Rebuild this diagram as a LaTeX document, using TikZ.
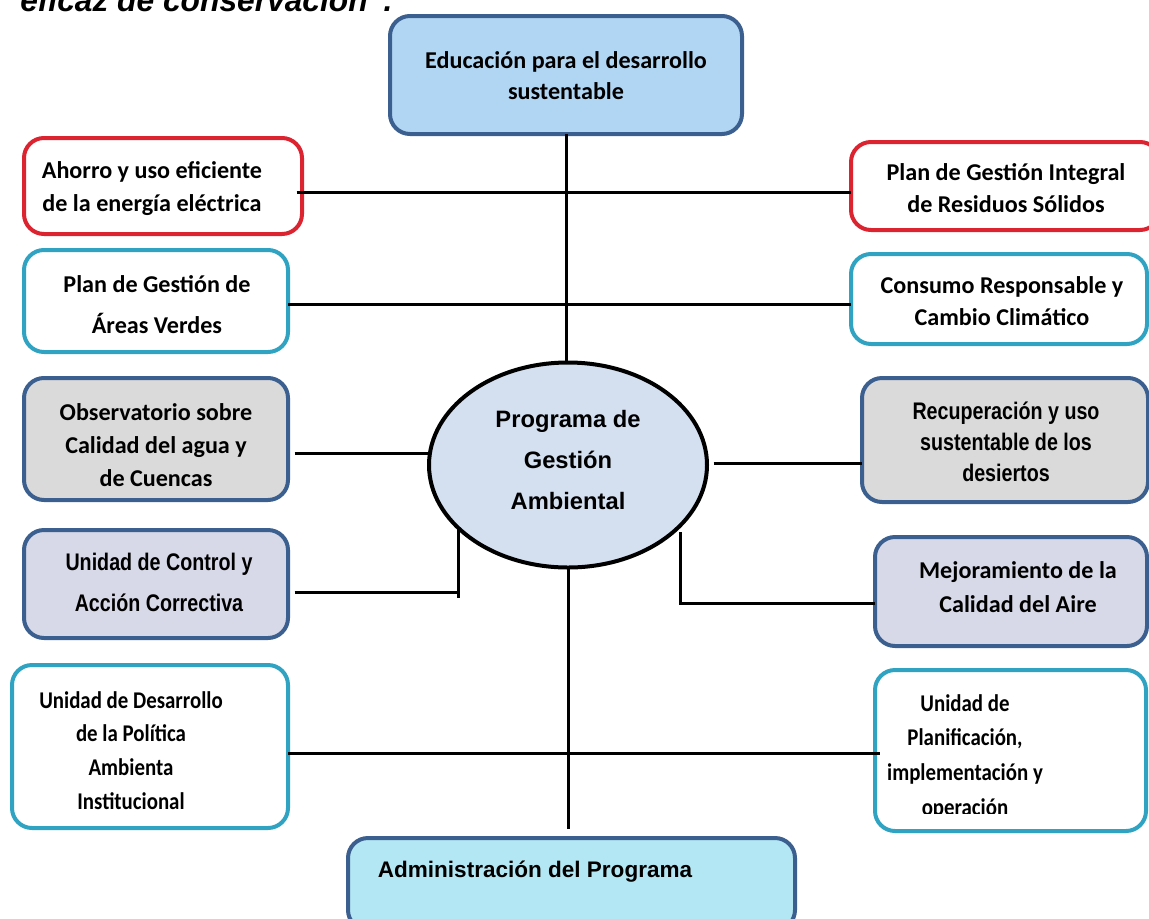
\documentclass[tikz,border=0pt]{standalone}
\usepackage{fontspec}
\usetikzlibrary{shapes.geometric}
\newfontfamily\carl{Carlito}
\newfontfamily\carlnarrow{Carlito}[FakeStretch=0.87]
\newfontfamily\arial{Liberation Sans}
\newfontfamily\narrowf{Liberation Sans}[FakeStretch=0.82]
\definecolor{dblue}{HTML}{3B5F8E}
\definecolor{redb}{HTML}{DC2430}
\definecolor{cyanb}{HTML}{31A3C2}
\definecolor{edufill}{HTML}{B1D6F4}
\definecolor{grayfill}{HTML}{DADADA}
\definecolor{lavfill}{HTML}{D7D9E8}
\definecolor{admfill}{HTML}{B3E7F3}
\definecolor{ellfill}{HTML}{D4E0F0}
\tikzset{
  boxbase/.style={rectangle, rounded corners=15pt, line width=3pt, inner sep=0pt, outer sep=0pt},
  bluebox/.style={boxbase, draw=dblue, fill=#1},
  redbox/.style={boxbase, draw=redb, fill=white},
  cyanbox/.style={boxbase, draw=cyanb, fill=white},
  conn/.style={line width=2.25pt, black},
  txt/.style={align=center, inner sep=0pt, anchor=base},
  cal/.style={txt, font=\carl\bfseries\fontsize{18.1}{#1}\selectfont},
  calsmall/.style={txt, font=\carlnarrow\bfseries\fontsize{18}{#1}\selectfont},
  nar/.style={txt, font=\narrowf\bfseries\fontsize{18}{#1}\selectfont},
}
\newcommand\bx[6]{\node[#6, minimum width={(#4-#2)*0.75pt}, minimum height={(#5-#3)*0.75pt}] (#1) at ({(#2+#4)/2},{(#3+#5)/2}) {};}
\begin{document}
\begin{tikzpicture}[x=0.75pt,y=-0.75pt]
\useasboundingbox (0,0) rectangle (1149,918);
% title (cut at top)
\node[anchor=base west, inner sep=0pt, font=\arial\bfseries\itshape\fontsize{23.8}{28}\selectfont] (title) at (20,11) {eficaz de conservación”.};
% boxes
\bx{edu}{390}{16}{742}{134}{bluebox=edufill}
\bx{ahorro}{24}{138}{302}{234}{redbox}
\bx{integral}{851}{142}{1160}{230}{redbox}
\bx{areas}{24}{250}{288}{352}{cyanbox}
\bx{consumo}{851}{254}{1147}{344}{cyanbox}
\bx{obs}{24}{378}{288}{500}{bluebox=grayfill}
\bx{recup}{862}{378}{1148}{502}{bluebox=grayfill}
\bx{control}{24}{530}{288}{638}{bluebox=lavfill}
\bx{mejor}{875}{537}{1147}{646}{bluebox=lavfill}
\bx{desarrollo}{12}{665}{288}{828}{cyanbox}
\bx{planif}{875}{670}{1146}{831}{cyanbox}
\bx{admin}{348}{838}{795}{930}{bluebox=admfill}
\node[ellipse, draw=black, line width=3pt, fill=ellfill, minimum width={278*0.75pt}, minimum height={205*0.75pt}, inner sep=0pt, outer sep=0pt] (prog) at (568,465) {};
% named rows for connectors
\coordinate (l1) at (0,192);
\coordinate (l2) at (0,304);
\coordinate (l3) at (0,453);
\coordinate (l4) at (0,463);
\coordinate (l5) at (0,592);
\coordinate (l5b) at (0,598);
\coordinate (l6) at (0,603);
\coordinate (l7) at (0,829);
\coordinate (l8) at (0,753);
% connectors
\draw[conn] (edu.south) -- (edu.south |- prog.north);
\draw[conn] ([xshift=-4pt]ahorro.east |- l1) -- (integral.west |- l1);
\draw[conn] (areas.east |- l2) -- (consumo.west |- l2);
\draw[conn] ([xshift=5pt]obs.east |- l3) -- (prog.west |- l3);
\draw[conn] ([xshift=5pt]prog.east |- l4) -- (recup.west |- l4);
\draw[conn] ([xshift=5pt]control.east |- l5) -- (prog.210 |- l5);
\draw[conn] (prog.210) -- (prog.210 |- l5b);
\draw[conn] (mejor.west |- l6) -| ([yshift=-5pt]prog.-28.5);
\draw[conn] (prog.south) -- (prog.south |- l7);
\draw[conn] (desarrollo.east |- l8) -- ([xshift=4pt]planif.west |- l8);
% texts (anchor = baseline of last line)
\node[cal=23.25pt] (edu-t) at (566,99) {Educación para el desarrollo\\sustentable};
\node[cal=24.75pt] (ahorro-t) at (152,211) {Ahorro y uso eficiente\\de la energía eléctrica};
\node[cal=24pt] (integral-t) at (1006,212) {Plan de Gestión Integral\\de Residuos Sólidos};
\node[cal=30.75pt] (areas-t) at (157,333) {Plan de Gestión de\\Áreas Verdes};
\node[cal=24pt] (consumo-t) at (1002,325) {Consumo Responsable y\\Cambio Climático};
\begin{scope}
\clip (20,370) rectangle (295,488);
\node[cal=24.75pt] (obs-t) at (156,486) {Observatorio sobre\\Calidad del agua y\\de Cuencas};
\end{scope}
\node[nar=30.75pt] (control-t) at (159,611) {Unidad de Control y\\Acción Correctiva};
\node[nar=23.25pt] (recup-t) at (1006,481) {Recuperación y uso\\sustentable de los\\desiertos};
\node[cal=25.5pt] (mejor-t) at (1018,612) {Mejoramiento de la\\Calidad del Aire};
\node[calsmall=25.25pt] (desarrollo-t) at (131,809) {Unidad de Desarrollo\\de la Política\\Ambienta\\Institucional};
\begin{scope}
\clip (870,660) rectangle (1149,813);
\node[calsmall=25.9pt] (planif-t) at (965,815) {Unidad de\\Planificación,\\implementación y\\operación};
\end{scope}
\node[txt, font=\arial\bfseries\fontsize{16.9}{20}\selectfont] (admin-t) at (535,877) {Administración del Programa};
\node[txt, font=\arial\bfseries\fontsize{17.8}{30.75}\selectfont] (prog-t) at (568,509) {Programa de\\Gestión\\Ambiental};
\end{tikzpicture}
\end{document}
